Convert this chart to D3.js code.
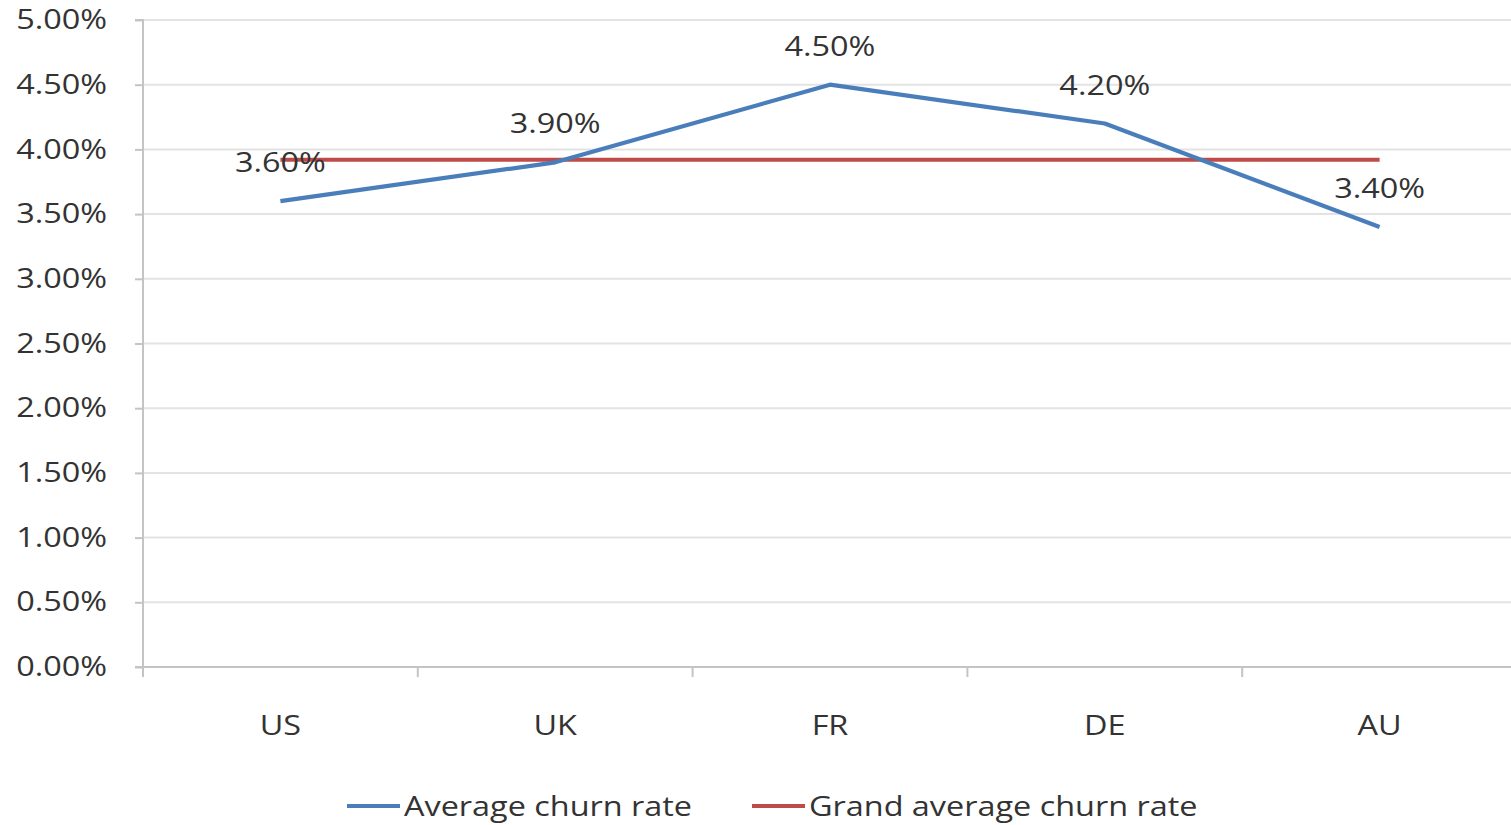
<!DOCTYPE html>
<html><head><meta charset="utf-8">
<script src="https://cdn.jsdelivr.net/npm/d3@7"></script>
<style>body{margin:0;background:#fff;} svg{display:block;} text{font-family:"Open Sans",sans-serif;fill:#333;}</style>
</head><body>
<svg id="c" width="1511" height="825"></svg>
<script>
const categories = ["US","UK","FR","DE","AU"];
const avgChurn = [0.036,0.039,0.045,0.042,0.034];
const grandAvg = [0.0392,0.0392,0.0392,0.0392,0.0392];
const yTicks = [0,0.005,0.01,0.015,0.02,0.025,0.03,0.035,0.04,0.045,0.05];
const seriesNames = ["Average churn rate","Grand average churn rate"];

(function(){
const svg = d3.select("#c");
const FONT = "Open Sans", FS = 27, SX = 1.2;
const pL = 143, pR = 1517, pT = 20, pB = 667;
const x = d3.scaleBand().domain(categories).range([pL, pR]);
const y = d3.scaleLinear().domain([0,0.05]).range([pB, pT]);
const fmt = d3.format(".2%");
function stretch(sel){
  sel.each(function(){
    const t = d3.select(this);
    const tx = +t.attr("x") || 0, ty = +t.attr("y") || 0;
    t.attr("transform", `translate(${tx},${ty}) scale(${SX},1) translate(${-tx},${-ty})`);
  });
}

// gridlines
svg.append("g").selectAll("line").data(yTicks.slice(1)).join("line")
  .attr("x1", pL).attr("x2", 1511).attr("y1", d=>y(d)).attr("y2", d=>y(d))
  .attr("stroke", "#e3e3e3").attr("stroke-width", 2);

// y axis
const ya = svg.append("g").attr("transform", `translate(${pL},0)`)
  .call(d3.axisLeft(y).tickValues(yTicks).tickFormat(fmt).tickSize(8).tickPadding(28));
ya.select(".domain").attr("stroke","#c4c4c4").attr("stroke-width",2).attr("d", `M-8,${pT}H0V${pB+10}`);
ya.selectAll(".tick line").attr("stroke","#c4c4c4").attr("stroke-width",2);
ya.selectAll(".tick text").attr("font-size", FS).attr("fill","#333").attr("font-family",FONT).call(stretch);

// x axis
const xa = svg.append("g").attr("transform", `translate(0,${pB})`)
  .call(d3.axisBottom(x).tickSize(0).tickPadding(49));
xa.select(".domain").attr("stroke","#c4c4c4").attr("stroke-width",2).attr("d", `M${pL-8},0H1511`);
xa.selectAll(".tick text").attr("font-size", FS).attr("fill","#333").attr("font-family",FONT).call(stretch);
const bounds = categories.slice(1).map(c => x(c));
xa.append("g").selectAll("line").data(bounds).join("line")
  .attr("x1", d=>d).attr("x2", d=>d).attr("y1",0).attr("y2",10)
  .attr("stroke","#c4c4c4").attr("stroke-width",2);

const cx = c => x(c) + x.bandwidth()/2;
const line = d3.line().x((d,i)=>cx(categories[i])).y(d=>y(d));

svg.append("path").datum(grandAvg).attr("d", line).attr("fill","none")
  .attr("stroke","#be4b48").attr("stroke-width",4.2);
svg.append("path").datum(avgChurn).attr("d", line).attr("fill","none")
  .attr("stroke","#4a7ebb").attr("stroke-width",4.2).attr("stroke-linejoin","round");

// data labels
svg.append("g").selectAll("text").data(avgChurn).join("text")
  .attr("x",(d,i)=>cx(categories[i])).attr("y", d=>y(d)-29)
  .attr("text-anchor","middle").attr("font-size",FS).attr("font-family",FONT).text(d=>fmt(d)).call(stretch);

// legend
const lg = svg.append("g");
const legendItems = [{name:seriesNames[0], color:"#4a7ebb", x:347},{name:seriesNames[1], color:"#be4b48", x:752}];
legendItems.forEach(it=>{
  lg.append("line").attr("x1",it.x).attr("x2",it.x+53).attr("y1",806).attr("y2",806)
    .attr("stroke",it.color).attr("stroke-width",4.2);
  lg.append("text").attr("x",it.x+57).attr("y",816).attr("font-size",FS).attr("font-family",FONT).text(it.name).call(stretch);
});
})();
</script>
</body></html>
